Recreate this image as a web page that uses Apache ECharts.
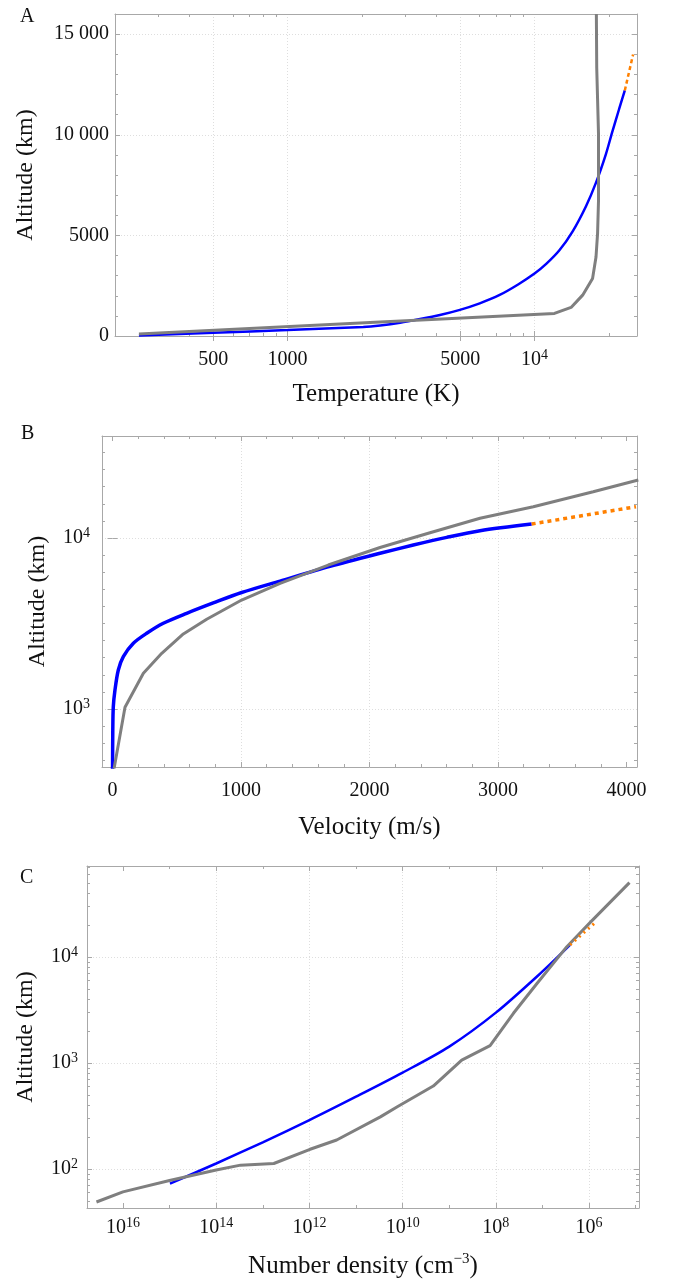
<!DOCTYPE html>
<html><head><meta charset="utf-8">
<script src="https://cdn.jsdelivr.net/npm/echarts@6/dist/echarts.min.js"></script>
<style>html,body{margin:0;padding:0;background:#fff}#c{width:680px;height:1282px}</style>
</head><body><div id="c"></div>
<script>
// ---------- Panel A: temperature profile ----------
const aModelT   = [250, 500, 1000, 2025, 2371, 2855, 3439, 4140, 4985, 6000, 7225, 8580, 10000, 11150, 12610, 14270, 16160, 17740, 19460, 20690, 22010, 23210];
const aModelAlt = [20, 160, 295, 450, 525, 660, 842, 1045, 1300, 1625, 2040, 2560, 3100, 3580, 4257, 5200, 6450, 7620, 9040, 10180, 11280, 12200];
const aExtT     = [23210, 25070];
const aExtAlt   = [12200, 13990];
const aObsT     = [250, 2371, 12040, 14060, 15660, 17180, 17740, 18000, 18160, 18160, 17860, 17800];
const aObsAlt   = [100, 694, 1123, 1419, 2030, 2855, 3926, 5082, 6732, 10030, 13330, 16000];
const aXLabels  = [500, 1000, 5000, 10000];
const aXMinor   = [300, 400, 600, 700, 800, 900, 2000, 3000, 4000, 6000, 7000, 8000, 9000, 20000];
const aYLabels  = [0, 5000, 10000, 15000];
const aYMinor   = [1000, 2000, 3000, 4000, 6000, 7000, 8000, 9000, 11000, 12000, 13000, 14000, 16000];

// ---------- Panel B: velocity profile ----------
const bModelV   = [0, 2, 6, 19, 45, 84, 162, 266, 395, 577, 784, 1005, 1304, 1693, 2082, 2341, 2601, 2860, 3262];
const bModelAlt = [440, 753, 1032, 1291, 1690, 2023, 2423, 2772, 3172, 3628, 4170, 4800, 5600, 6820, 8138, 9100, 10090, 11030, 12070];
const bExtV     = [3262, 4074];
const bExtAlt   = [12070, 15240];
const bObsV     = [10, 97, 240, 383, 551, 733, 1005, 1304, 1679, 2082, 2471, 2860, 3275, 3741, 4092];
const bObsAlt   = [440, 1023, 1617, 2118, 2747, 3350, 4340, 5430, 6950, 8800, 10740, 13040, 15240, 18660, 21830];
const bXLabels  = [0, 1000, 2000, 3000, 4000];
const bXMinor   = [200, 400, 600, 800, 1200, 1400, 1600, 1800, 2200, 2400, 2600, 2800, 3200, 3400, 3600, 3800];
const bXGrid    = [1000, 2000, 3000];
const bYLabels  = [1000, 10000];
const bYMinor   = [501, 631, 794, 1259, 1585, 1995, 2512, 3162, 3981, 5012, 6310, 7943, 12589, 15849, 19953, 25119, 31623];

// ---------- Panel C: number density profile ----------
const cModelN   = [9.8e14, 1e14, 1e13, 1e12, 1e11, 1e10, 1e9, 1e8, 1e7, 2.56e6];
const cModelAlt = [73, 113, 179, 290, 482, 813, 1429, 2985, 7300, 12980];
const cExtN     = [2.56e6, 7.0e5];
const cExtAlt   = [12980, 21530];
const cObsN     = [3.7e16, 1e16, 1e15, 1e14, 3e13, 5.8e12, 1e12, 2.6e11, 3e10, 1.3e10, 2.2e9, 5.4e8, 1.33e8, 4.2e7, 1.3e7, 3e6, 9.1e5, 1.36e5];
const cObsAlt   = [49, 61, 78, 98, 109, 113, 153, 188, 311, 387, 607, 1067, 1457, 2944, 5650, 12500, 21530, 50200];
const cXLabels  = [1e16, 1e14, 1e12, 1e10, 1e8, 1e6];
const cXMinor   = [1e15, 1e13, 1e11, 1e9, 1e7, 1e5];
const cXGrid    = [1e14, 1e12, 1e10, 1e8, 1e6];
const cYLabels  = [100, 1000, 10000];
const cYMinor   = [50, 60, 70, 80, 90, 200, 300, 400, 500, 600, 700, 800, 900, 2000, 3000, 4000, 5000, 6000, 7000, 8000, 9000, 20000, 30000, 40000, 50000, 60000, 70000];

const FONT = '"Liberation Serif", "DejaVu Serif", serif';
const INK = '#111';
const FRAME = '#a8a8a8';
const GRIDC = '#dedede';
const BLUE = '#0000ff', GRAY = '#7f7f7f', ORANGE = '#ff8000';

const rich = {
  b: {fontSize: 20, lineHeight: 24, fontFamily: FONT, color: INK},
  s: {fontSize: 14, lineHeight: 14, verticalAlign: 'top', fontFamily: FONT, color: INK}
};
function pow10Label(v) {
  const e = Math.round(Math.log10(v));
  return '{b|10}{s|' + e + '}';
}
function plainLabel(v) {
  const map = {15000: '15 000', 10000: '10 000'};
  return '{b|' + (map[v] || String(v)) + '}';
}

function makeAxes(dim, gi, o) {
  const base = {gridIndex: gi, type: o.type, min: o.min, max: o.max, inverse: !!o.inverse};
  const sideA = dim === 'x' ? 'bottom' : 'left';
  const sideB = dim === 'x' ? 'top' : 'right';
  const tick = (vals, len) => ({show: true, inside: true, length: len, customValues: vals, lineStyle: {color: FRAME, width: 1}});
  const off = {show: false};
  const frameLine = {show: true, onZero: false, lineStyle: {color: FRAME, width: 1}};
  return [
    Object.assign({}, base, {
      position: sideA, axisLine: frameLine, axisTick: tick(o.minor, 3),
      axisLabel: {show: true, customValues: o.labels, formatter: o.fmt, margin: o.margin, rich: rich, fontFamily: FONT, fontSize: 20, color: INK},
      splitLine: off,
      name: o.name, nameLocation: 'middle', nameGap: o.nameGap, nameRotate: dim === 'y' ? 90 : 0,
      nameTextStyle: {fontFamily: FONT, fontSize: o.nameSize, color: INK, lineHeight: 28,
        rich: {s: {fontSize: 15, lineHeight: 15, verticalAlign: 'top', fontFamily: FONT, color: INK}}}
    }),
    Object.assign({}, base, {position: sideA, axisLine: {show: false}, axisTick: tick(o.labels, 5), axisLabel: off, splitLine: off}),
    Object.assign({}, base, {position: sideA, axisLine: {show: false}, axisTick: {show: false, customValues: o.grid}, axisLabel: off,
      splitLine: {show: true, lineStyle: {color: GRIDC, type: [1, 2], width: 1}}}),
    Object.assign({}, base, {position: sideB, axisLine: frameLine, axisTick: tick(o.minor, 3), axisLabel: off, splitLine: off}),
    Object.assign({}, base, {position: sideB, axisLine: {show: false}, axisTick: tick(o.labels, 5), axisLabel: off, splitLine: off})
  ];
}

function zip(xs, ys) { return xs.map((x, i) => [x, ys[i]]); }
function line(panel, xs, ys, color, width, type, smooth, z) {
  return {
    type: 'line', xAxisIndex: panel * 5, yAxisIndex: panel * 5, data: zip(xs, ys),
    showSymbol: false, symbol: 'none', smooth: smooth, z: z, silent: true,
    lineStyle: {color: color, width: width, type: type, cap: 'butt'}
  };
}

const xAxes = [].concat(
  makeAxes('x', 0, {type: 'log', min: 200, max: 26000, labels: aXLabels, minor: aXMinor, grid: aXLabels,
    fmt: v => v >= 10000 ? pow10Label(v) : plainLabel(v), margin: 12, name: 'Temperature (K)', nameGap: 44, nameSize: 25}),
  makeAxes('x', 1, {type: 'value', min: -82, max: 4082, labels: bXLabels, minor: bXMinor, grid: bXGrid,
    fmt: plainLabel, margin: 12, name: 'Velocity (m/s)', nameGap: 46, nameSize: 25}),
  makeAxes('x', 2, {type: 'log', min: 8.5e4, max: 5.9e16, inverse: true, labels: cXLabels, minor: cXMinor, grid: cXGrid,
    fmt: pow10Label, margin: 8, name: 'Number density (cm{s|\u22123})', nameGap: 44, nameSize: 25})
);
const yAxes = [].concat(
  makeAxes('y', 0, {type: 'value', min: 0, max: 16000, labels: aYLabels, minor: aYMinor, grid: [5000, 10000, 15000],
    fmt: plainLabel, margin: 6, name: 'Altitude (km)', nameGap: 75, nameSize: 24}),
  makeAxes('y', 1, {type: 'log', min: 458, max: 39500, labels: bYLabels, minor: bYMinor, grid: bYLabels,
    fmt: pow10Label, margin: 12, name: 'Altitude (km)', nameGap: 41, nameSize: 24}),
  makeAxes('y', 2, {type: 'log', min: 43, max: 72000, labels: cYLabels, minor: cYMinor, grid: cYLabels,
    fmt: pow10Label, margin: 9, name: 'Altitude (km)', nameGap: 37, nameSize: 24})
);

const option = {
  animation: false,
  backgroundColor: '#fff',
  grid: [
    {left: 115, top: 14, width: 522, height: 322, outerBoundsMode: 'none'},
    {left: 102, top: 436, width: 535, height: 331, outerBoundsMode: 'none'},
    {left: 87, top: 866, width: 552, height: 342, outerBoundsMode: 'none'}
  ],
  xAxis: xAxes,
  yAxis: yAxes,
  graphic: [
    {type: 'text', left: 20, top: 7, style: {text: 'A', fontSize: 20, fontFamily: FONT, fill: INK}},
    {type: 'text', left: 21, top: 424, style: {text: 'B', fontSize: 20, fontFamily: FONT, fill: INK}},
    {type: 'text', left: 20, top: 868, style: {text: 'C', fontSize: 20, fontFamily: FONT, fill: INK}}
  ],
  series: [
    line(0, aModelT, aModelAlt, BLUE, 2.5, 'solid', 0.25, 2),
    line(0, aExtT, aExtAlt, ORANGE, 2.5, [4, 3], false, 2),
    line(0, aObsT, aObsAlt, GRAY, 3, 'solid', false, 3),
    line(1, bModelV, bModelAlt, BLUE, 3.5, 'solid', 0.3, 2),
    line(1, bExtV, bExtAlt, ORANGE, 3.5, [4, 4], false, 2),
    line(1, bObsV, bObsAlt, GRAY, 3, 'solid', false, 3),
    line(2, cModelN, cModelAlt, BLUE, 2.5, 'solid', 0.3, 2),
    line(2, cObsN, cObsAlt, GRAY, 3, 'solid', false, 3),
    line(2, cExtN, cExtAlt, ORANGE, 3, [2, 4], false, 4)
  ]
};
const chart = echarts.init(document.getElementById('c'), null, {renderer: 'canvas'});
chart.setOption(option);
</script>
</body></html>
